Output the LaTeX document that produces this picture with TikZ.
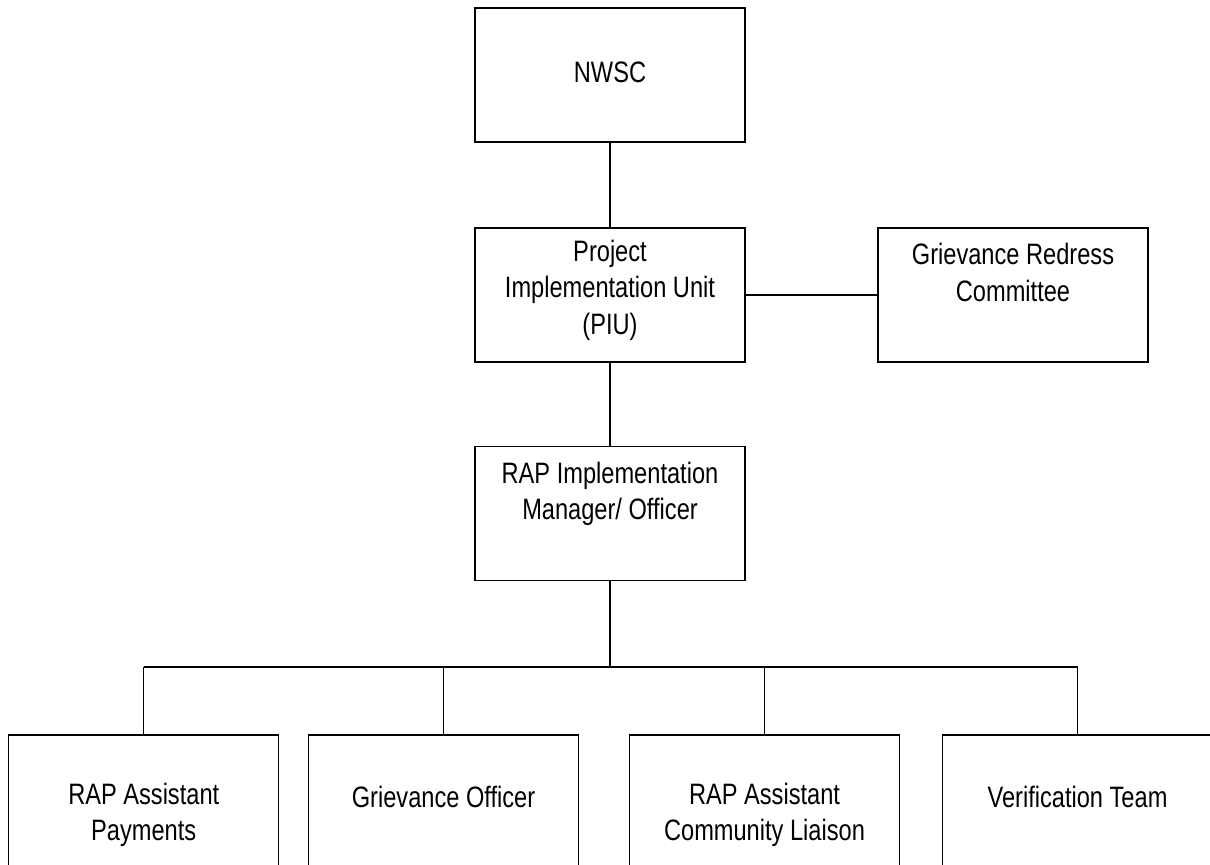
\documentclass[tikz,border=0pt]{standalone}
\usepackage{fontspec}
\setmainfont{Liberation Sans}[FakeStretch=0.8]
\usetikzlibrary{positioning}
\tikzset{
    orgbox/.style={
        draw=black,
        line width=0.8pt,
        minimum width=6.75cm,
        minimum height=3.35cm,
        inner sep=0pt
    },
    orgtext/.style={
        align=center,
        inner sep=0pt,
        font=\fontsize{21}{26}\selectfont
    },
    orgline/.style={
        draw=black,
        line width=1pt
    }
}

\begin{document}
\begin{tikzpicture}[x=0.025cm,y=-0.025cm]
        \useasboundingbox (0,0) rectangle (1210,865);
        \clip (0,0) rectangle (1210,865);

        \node[orgbox,label={[orgtext,yshift=2pt]center:NWSC}] (nwsc) at (610,75) {};
        \node[orgbox,label={[orgtext,yshift=3.5pt]center:Project\\Implementation Unit\\(PIU)}]
            (piu) at (610,295) {};
        \node[orgbox,label={[orgtext,yshift=16pt]center:Grievance Redress\\Committee}]
            (grc) at (1013,295) {};
        \node[orgbox,label={[orgtext,yshift=14pt]center:RAP Implementation\\Manager/ Officer}]
            (rapmgr) at (610,513.5) {};

        \node[orgbox,label={[orgtext,yshift=-9pt]center:RAP Assistant\\Payments}]
            (payments) at (143.75,802) {};
        \node[orgbox,label={[orgtext,yshift=3.5pt]center:Grievance Officer}]
            (grofficer) at (443.5,802) {};
        \node[orgbox,label={[orgtext,yshift=-9pt]center:RAP Assistant\\Community Liaison}]
            (liaison) at (764.5,802) {};
        \node[orgbox,label={[orgtext,yshift=3.5pt]center:Verification Team}]
            (verify) at (1077.5,802) {};

        \coordinate (bus) at (0,667);

        \draw[orgline] (nwsc.south) -- (piu.north);
        \draw[orgline] (piu.east) -- (grc.west);
        \draw[orgline] (piu.south) -- (rapmgr.north);
        \draw[orgline] (rapmgr.south) -- (rapmgr.south |- bus);
        \draw[orgline] (payments.north |- bus) -- (verify.north |- bus);
        \foreach \unit in {payments,grofficer,liaison,verify}
            \draw[orgline] (\unit.north |- bus) -- (\unit.north);
\end{tikzpicture}
\end{document}
